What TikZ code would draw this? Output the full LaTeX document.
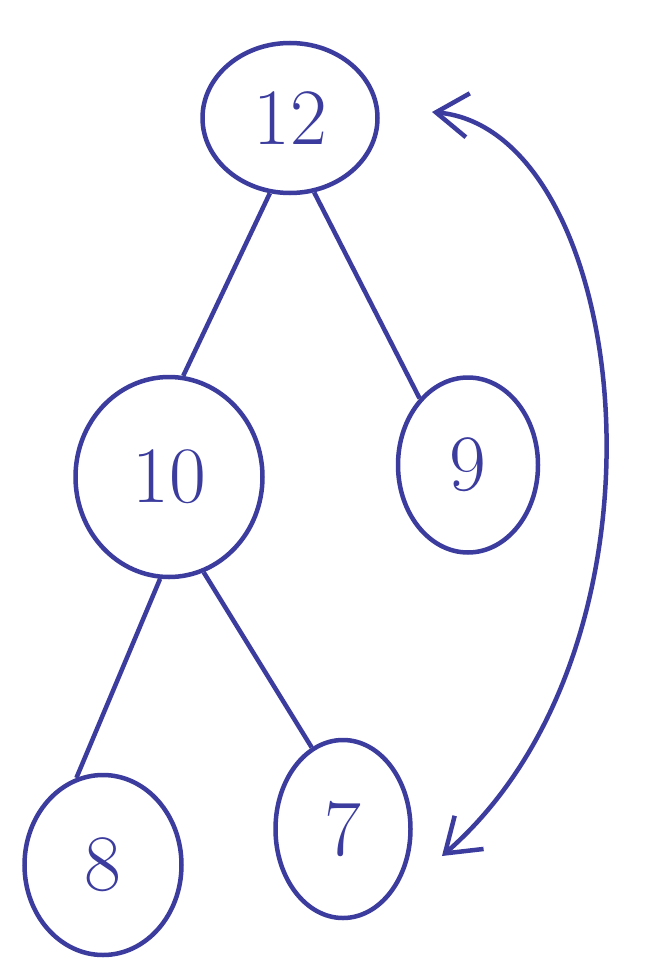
\documentclass[tikz,border=0pt]{standalone}
\usetikzlibrary{shapes.geometric,arrows.meta}
\definecolor{ink}{HTML}{3B3C9E}
\begin{document}
\begin{tikzpicture}[x=1pt,y=-1pt,
  hnode/.style={ellipse,draw=ink,line width=4.5pt,inner sep=0pt,text=ink,font=\fontsize{80}{80}\selectfont},
  hedge/.style={draw=ink,line width=4.5pt}]
\fill[white] (0,0) rectangle (649,963);
\useasboundingbox (0,0) rectangle (649,963);
\node[hnode,minimum width=175pt,minimum height=150pt] (n12) at (290,118) {12};
\node[hnode,minimum width=187pt,minimum height=200pt] (n10) at (169,477) {10};
\node[hnode,minimum width=140pt,minimum height=175pt] (n9) at (468,465) {9};
\node[hnode,minimum width=157pt,minimum height=180pt] (n8) at (103,865) {8};
\node[hnode,minimum width=135pt,minimum height=178pt] (n7) at (343,829) {7};
\draw[hedge] (n12.-105) -- (n10.82);
\draw[hedge] (n12.-72) -- (n9.126);
\draw[hedge] (n10.-95) -- (n8.107);
\draw[hedge] (n10.-70) -- (n7.111);
\coordinate (a1) at (432,112);
\coordinate (a2) at (442,856);
\draw[hedge,{Straight Barb[length=32pt,width=44pt,line width=4.5pt]}-{Straight Barb[length=32pt,width=44pt,line width=4.5pt]}]
  (a1) .. controls (630,130) and (690,640) .. (a2);
\end{tikzpicture}
\end{document}
